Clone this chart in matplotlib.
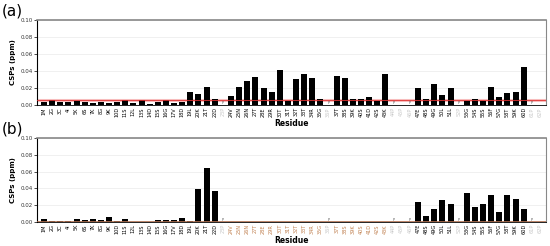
import matplotlib
matplotlib.use("Agg")
import matplotlib.pyplot as plt
import numpy as np

residues = ["1M","2G","3C","4I","5K","6S","7K","8G","9K","10D","11S","12L","13S","14D","15S",
            "16G","17V","18D","19L","20K","21T","22D","23P","24V","25N","26N","27T","28E","29R",
            "30T","31T","32T","33T","34R","35G","36P","37T","38S","39K","40S","41D","42S","43K",
            "44P","45P","46P","47E","48S","49G","50L","51L","52P","53G","54S","55S","56F","57G",
            "58T","59K","60D","61P","62P"]

csp_a = [0.0035,0.006,0.004,0.0035,0.0045,0.004,0.002,0.004,0.002,0.004,0.0055,0.0025,0.0055,0.001,0.003,
         0.0055,0.002,0.0035,0.0157,0.0135,0.021,0.0067,0,0.0106,0.021,0.0286,0.033,0.0196,0.0153,
         0.0416,0.005,0.031,0.0365,0.0314,0.0067,0,0.0337,0.032,0.0075,0.0075,0.010,0.005,0.0369,
         0,0,0,0.0204,0.0075,0.0243,0.0122,0.0196,0,0.005,0.007,0.005,0.0208,0.010,
         0.0137,0.0153,0.0443,0,0]

csp_b = [0.003,0.001,0.001,0.0016,0.0035,0.002,0.003,0.0024,0.0063,0.0016,0.004,0.0003,0.0003,0.0005,0.0024,
         0.002,0.002,0.005,0.0016,0.039,0.064,0.0365,0,0,0,0,0,0,0,
         0,0,0,0,0,0,0,0,0,0,0,0,0,0,
         0,0,0,0.0239,0.0075,0.0153,0.0263,0.022,0,0.0349,0.0176,0.0212,0.0322,0.0122,
         0.0322,0.0278,0.0153,0,0]

proline_marks = ["23P","36P","44P","46P","52P","61P"]
grey_labels = ["23P","36P","44P","45P","46P","52P","61P","62P"]
brown_labels_b = residues[23:43]

threshold_a = 0.0055
threshold_b = 0.001

fig = plt.figure(figsize=(5.5, 2.46), dpi=100)
ax_a = fig.add_axes([0.0673, 0.573, 0.9254, 0.346])
ax_b = fig.add_axes([0.0673, 0.0976, 0.9254, 0.3414])

x = np.arange(len(residues))

def style(ax, vals, thr, thr_color, panel):
    ax.set_axisbelow(True)
    ax.yaxis.grid(True, color="#eeeeee", linewidth=0.6)
    ax.bar(x, vals, width=0.74, color="black", zorder=2)
    for r in proline_marks:
        i = residues.index(r)
        ax.text(i, 0.0004, "P", fontsize=2.5, color="#555555", ha="center", va="bottom", zorder=3)
    if panel == "a":
        ax.axhline(thr, color="#f5a0a0", linewidth=2.2, alpha=0.7, zorder=1)
        ax.axhline(thr, color="#e03030", linewidth=0.6, zorder=3)
    else:
        ax.axhline(thr, color=thr_color, linewidth=0.6, zorder=3)
    ax.set_xlim(-0.86, 61.74)
    ax.set_ylim(0, 0.10)
    ax.set_yticks(np.arange(0, 0.101, 0.02))
    ax.set_yticklabels([f"{v:.2f}" for v in np.arange(0, 0.101, 0.02)], fontsize=4, color="#333333")
    ax.set_xticks(x)
    ax.set_xticklabels(residues, rotation=90, fontsize=3.6)
    ax.tick_params(axis="x", length=0, pad=1.5)
    ax.tick_params(axis="y", length=2, width=0.5, pad=1)
    for lab, r in zip(ax.get_xticklabels(), residues):
        if r in grey_labels:
            lab.set_color("#c8c8c8")
        elif panel == "b" and r in brown_labels_b:
            lab.set_color("#c08050")
        else:
            lab.set_color("black")
    ax.spines["left"].set_color("black")
    ax.spines["left"].set_linewidth(0.8)
    ax.spines["bottom"].set_color("black")
    ax.spines["bottom"].set_linewidth(0.6)
    ax.spines["top"].set_color("#888888")
    ax.spines["top"].set_linewidth(1.2)
    ax.spines["right"].set_color("#888888")
    ax.spines["right"].set_linewidth(0.8)
    ax.set_ylabel("CSPs (ppm)", fontsize=5, fontweight="bold", labelpad=3)
    ax.set_xlabel("Residue", fontsize=5.5, fontweight="bold", labelpad=1)

style(ax_a, csp_a, threshold_a, "#e03030", "a")
style(ax_b, csp_b, threshold_b, "#b07050", "b")

fig.text(0.004, 0.985, "(a)", fontsize=11, va="top", ha="left")
fig.text(0.004, 0.505, "(b)", fontsize=11, va="top", ha="left")

fig.savefig("out.png", dpi=100)
